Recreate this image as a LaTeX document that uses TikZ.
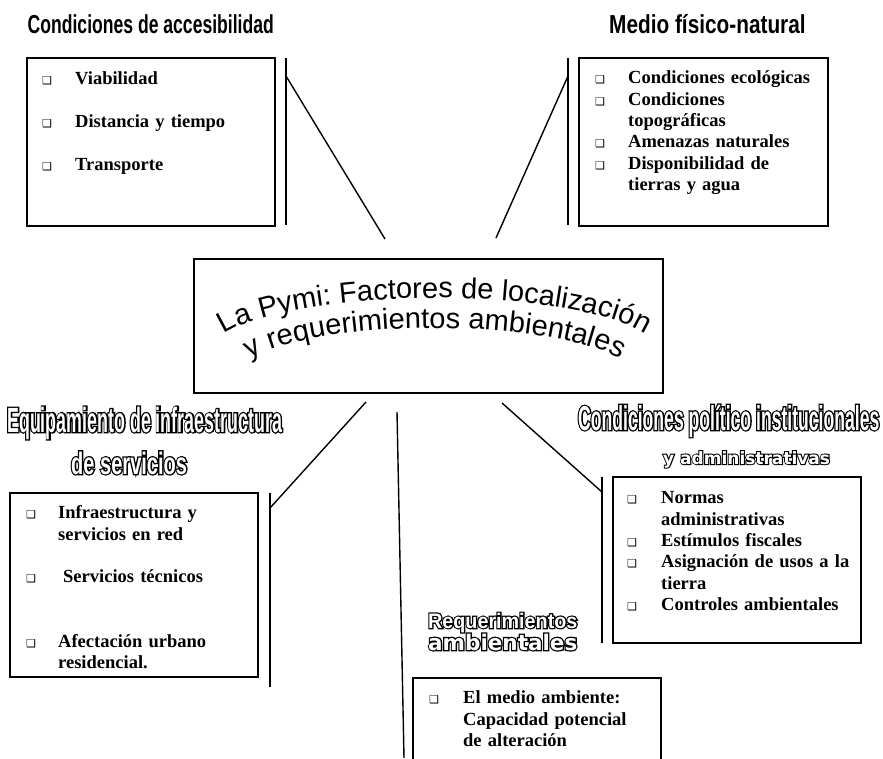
\documentclass[tikz,border=0pt]{standalone}
\usepackage{fontspec}
\usepackage{graphicx}
\setmainfont{Liberation Serif}
\newfontfamily\sansf{Liberation Sans}
\newfontfamily\dejavu{DejaVu Sans}
\newfontfamily\fA{Liberation Sans Bold}[FakeStretch=0.676]
\newfontfamily\fB{Liberation Sans Bold}[FakeStretch=0.80]
\newfontfamily\fC{Liberation Sans Bold}[FakeStretch=0.51]
\newfontfamily\fCo{Liberation Sans Bold}[FakeStretch=0.51, FakeBold=7.5]
\newfontfamily\fD{Liberation Sans Bold}[FakeStretch=0.647]
\newfontfamily\fDo{Liberation Sans Bold}[FakeStretch=0.647, FakeBold=8.5]
\newfontfamily\fE{Liberation Sans Bold}[FakeStretch=0.94]
\newfontfamily\fEo{Liberation Sans Bold}[FakeStretch=0.94, FakeBold=12]
\newfontfamily\fF{DejaVu Sans Bold}
\newfontfamily\fFo{DejaVu Sans Bold}[FakeBold=12]
\usetikzlibrary{decorations.text}
\hyphenpenalty=10000
\exhyphenpenalty=10000
\def\bwv{33pt}
\newcommand\pymifontx{\sansf\fontsize{29}{30}\selectfont}
\newcommand\bul{{\dejavu\fontsize{11}{11}\selectfont ❑}}
\newcommand\itm[1]{\par\noindent\hangindent=\bwv\hangafter=1\rule{0pt}{15pt}\makebox[\bwv][l]{\bul}#1}
\newcommand\gap{\par\vskip21.4pt}
% outlined text: #1 = black stroked copy, #2 = white copy on top
\newcommand\outlt[2]{\leavevmode\makebox[0pt][l]{\textcolor{black}{#1}}\textcolor{white}{#2}}
\tikzset{
  box/.style={draw=black, line width=1.7pt, rectangle, inner sep=0pt},
  conn/.style={draw=black, line width=1.4pt},
  list/.style={anchor=north west, inner sep=0pt, align=left,
    font=\bfseries\fontsize{18.5}{21.4}\selectfont},
  ttl/.style={anchor=base west, inner sep=0pt},
}
\begin{document}
\begin{tikzpicture}[x=1pt,y=-1pt]
\useasboundingbox (0,0) rectangle (883,758);
\fill[white] (0,0) rectangle (883,758);

% titles
\node[ttl] (t1) at (27.5,33) {\fontsize{26}{28}\fA Condiciones de accesibilidad};
\node[ttl] (t2) at (609,33) {\fontsize{26}{28}\fB Medio físico-natural};
\node[ttl] (t3) at (7,432) {\outlt{\fontsize{35}{36}\fCo Equipamiento de infraestructura}{\fontsize{35}{36}\fC Equipamiento de infraestructura}};
\node[ttl] (t4) at (71,474) {\outlt{\fontsize{31}{32}\fDo de servicios}{\fontsize{31}{32}\fD de servicios}};
\node[ttl] (t5) at (578,430) {\outlt{\fontsize{34.5}{35}\fCo Condiciones político institucionales}{\fontsize{34.5}{35}\fC Condiciones político institucionales}};
\node[ttl] (t6) at (663,464) {\outlt{\fontsize{17}{18}\fFo y administrativas}{\fontsize{17}{18}\fF y administrativas}};
\node[ttl] (t7) at (428,628) {\outlt{\fontsize{21}{22}\fEo Requerimientos}{\fontsize{21}{22}\fE Requerimientos}};
\node[ttl] (t8) at (428,650) {\outlt{\fontsize{21.5}{22}\fFo ambientales}{\fontsize{21.5}{22}\fF ambientales}};

% boxes
\node[box, minimum width=248pt, minimum height=168pt] (b1) at (151,142) {};
\node[box, minimum width=249pt, minimum height=168pt] (b2) at (703.5,142) {};
\node[box, minimum width=248pt, minimum height=184pt] (b3) at (134,585) {};
\node[box, minimum width=248pt, minimum height=166pt] (b4) at (737,560) {};
\begin{scope}
\clip (0,0) rectangle (883,758);
\node[box, minimum width=248pt, minimum height=120pt] (b5) at (537,738) {};
\end{scope}
\node[box, line width=1.5pt, minimum width=469pt, minimum height=134pt] (c) at (428.5,326) {};

% lists
\node[list, text width=230pt] (l1) at (42,63) {\def\bwv{33pt}%
\itm{Viabilidad}\gap
\itm{Distancia y tiempo}\gap
\itm{Transporte}\par};
\node[list, text width=229pt] (l2) at (595,62) {\def\bwv{33pt}%
\itm{Condiciones ecológicas}
\itm{Condiciones\newline topográficas}
\itm{Amenazas naturales}
\itm{Disponibilidad de\newline tierras y agua}\par};
\node[list, text width=229pt] (l3) at (26,497) {\def\bwv{32pt}%
\itm{Infraestructura y\newline servicios en red}\gap
\itm{\hspace{5pt}Servicios técnicos}\gap\vskip21.4pt
\itm{Afectación urbano\newline residencial.}\par};
\node[list, text width=231pt] (l4) at (627,482) {\def\bwv{34pt}%
\itm{Normas\newline administrativas}
\itm{Estímulos fiscales}
\itm{Asignación de usos a la\newline tierra}
\itm{Controles ambientales}\par};
\node[list, text width=229pt] (l5) at (429,682) {\def\bwv{34pt}%
\itm{El medio ambiente:\newline Capacidad potencial\newline de alteración}\par};

% curved title
\path[decorate, decoration={text along path, text align=center,
  text={|\pymifontx|La Pymi: Factores de localización}}]
  (214.9,342) arc[start angle=192, end angle=348, x radius=225, y radius=55.6];
\path[decorate, decoration={text along path, text align=center,
  text={|\pymifontx|y requerimientos ambientales}}]
  (241.8,365.1) arc[start angle=195, end angle=345, x radius=200, y radius=50];

% connectors
\coordinate (a1) at (286,58);  \coordinate (a2) at (286,225);
\coordinate (a3) at (286,76);  \coordinate (a4) at (385,239);
\coordinate (r1) at (568,58);  \coordinate (r2) at (568,225);
\coordinate (r3) at (568,76);  \coordinate (r4) at (496,238);
\coordinate (s1) at (366,402); \coordinate (s2) at (270,508);
\coordinate (s3) at (270,493); \coordinate (s4) at (270,687);
\coordinate (m1) at (397,412); \coordinate (m2) at (404,758);
\coordinate (q1) at (502,403); \coordinate (q2) at (602,492);
\coordinate (q3) at (602,477); \coordinate (q4) at (602,643);
\draw[conn] (a1) -- (a2);
\draw[conn] (a3) -- (a4);
\draw[conn] (r1) -- (r2);
\draw[conn] (r3) -- (r4);
\draw[conn] (s1) -- (s2);
\draw[conn] (s3) -- (s4);
\draw[conn] (m1) -- (m2);
\draw[conn] (q1) -- (q2);
\draw[conn] (q3) -- (q4);
\end{tikzpicture}
\end{document}
